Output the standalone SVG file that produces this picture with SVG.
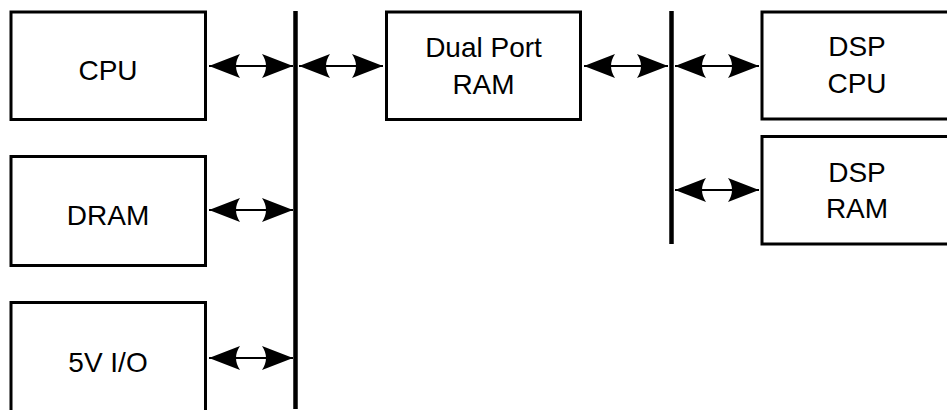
<svg xmlns="http://www.w3.org/2000/svg" width="947" height="410" viewBox="0 0 947 410">
<style>
.box{fill:#fff;stroke:#000;stroke-width:3}
.bus{stroke:#000;stroke-width:4.5;fill:none}
.con{stroke:#000;stroke-width:2;fill:none;marker-start:url(#ah);marker-end:url(#ah)}
text{font-family:"Liberation Sans",Arial,sans-serif;font-size:28px;fill:#000;text-anchor:middle}
</style>
<defs>
<marker id="ah" viewBox="0 -12 31 24" refX="31" refY="0" markerWidth="31" markerHeight="24" markerUnits="userSpaceOnUse" orient="auto-start-reverse">
<path d="M31,0 L0,-12 Q8,0 0,12 Z" fill="#000"/>
</marker>
</defs>
<rect width="947" height="410" fill="#fff"/>
<g id="cpu"><rect class="box" x="11" y="12" width="194.5" height="107.5"/><text x="108" y="80">CPU</text></g>
<g id="dram"><rect class="box" x="11" y="156.5" width="194.5" height="109"/><text x="108" y="225">DRAM</text></g>
<g id="io"><rect class="box" x="11" y="302.5" width="194.5" height="109"/><text x="108" y="372">5V I/O</text></g>
<g id="dpram"><rect class="box" x="386.5" y="12" width="194" height="107.5"/><text x="483.5" y="57">Dual Port</text><text x="483.5" y="94">RAM</text></g>
<g id="dspcpu"><rect class="box" x="762" y="12" width="192" height="107"/><text x="857" y="56">DSP</text><text x="857" y="93">CPU</text></g>
<g id="dspram"><rect class="box" x="762" y="136.5" width="192" height="107.5"/><text x="857" y="182">DSP</text><text x="857" y="218">RAM</text></g>
<g id="buses">
<line class="bus" x1="295.5" y1="11" x2="295.5" y2="409"/>
<line class="bus" x1="671.5" y1="11" x2="671.5" y2="244"/>
</g>
<g id="connectors">
<line class="con" x1="209" y1="66" x2="293" y2="66"/>
<line class="con" x1="299" y1="66" x2="383" y2="66"/>
<line class="con" x1="584" y1="66" x2="668" y2="66"/>
<line class="con" x1="675" y1="66" x2="759" y2="66"/>
<line class="con" x1="209" y1="210" x2="293" y2="210"/>
<line class="con" x1="209" y1="358" x2="293" y2="358"/>
<line class="con" x1="675" y1="190" x2="759" y2="190"/>
</g>
</svg>
